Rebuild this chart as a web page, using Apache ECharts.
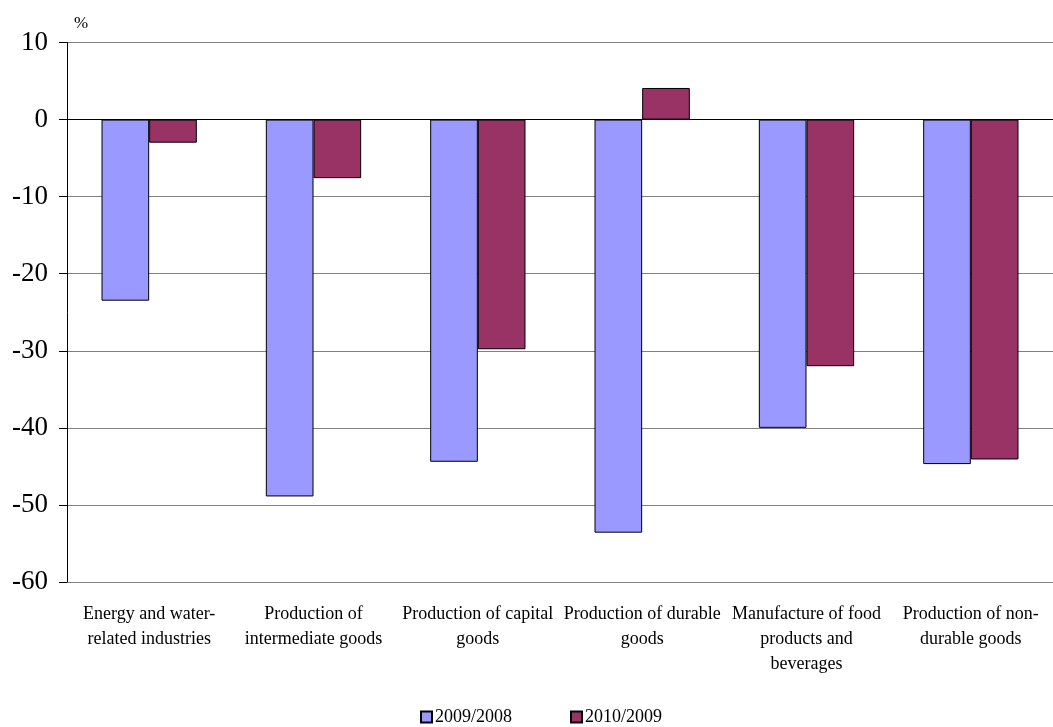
<!DOCTYPE html>
<html>
<head>
<meta charset="utf-8">
<script src="https://cdn.jsdelivr.net/npm/echarts@6/dist/echarts.min.js"></script>
<style>
html,body{margin:0;padding:0;background:#fff;}
#chart{width:1053px;height:727px;}
</style>
</head>
<body>
<div id="chart"></div>
<script>
const categories = [
  "Energy and water-\nrelated industries",
  "Production of\nintermediate goods",
  "Production of capital\ngoods",
  "Production of durable\ngoods",
  "Manufacture of food\nproducts and\nbeverages",
  "Production of non-\ndurable goods"
];
const seriesNames = ["2009/2008", "2010/2009"];
const values2009 = [-23.5, -48.9, -44.4, -53.6, -40.0, -44.7];
const values2010 = [-3.0, -7.6, -29.8, 4.1, -32.0, -44.1];
const yTicks = [-60, -50, -40, -30, -20, -10, 0, 10];

const font = "'Liberation Serif', 'Times New Roman', serif";
const chart = echarts.init(document.getElementById('chart'));
chart.setOption({
  animation: false,
  backgroundColor: '#ffffff',
  title: {
    text: '%',
    left: 69,
    top: 10,
    textStyle: { fontFamily: font, fontSize: 17, fontWeight: 'normal', color: '#000' }
  },
  grid: { left: 67, right: 0, top: 42.5, bottom: 145, containLabel: false },
  legend: {
    data: seriesNames,
    top: 703,
    left: 415,
    itemWidth: 11,
    itemHeight: 11,
    itemGap: 58,
    icon: 'rect',
    textStyle: { fontFamily: font, fontSize: 18, color: '#000', padding: [0, 0, 0, -2] }
  },
  xAxis: {
    type: 'category',
    data: categories,
    position: 'bottom',
    axisLine: { show: false },
    axisTick: { show: false },
    axisLabel: {
      interval: 0,
      fontFamily: font,
      fontSize: 18,
      lineHeight: 25,
      color: '#000',
      margin: 20
    }
  },
  yAxis: {
    type: 'value',
    min: yTicks[0],
    max: yTicks[yTicks.length - 1],
    interval: 10,
    axisLine: { show: true, lineStyle: { color: '#000', width: 1 } },
    axisTick: { show: true, length: 8, lineStyle: { color: '#000' } },
    axisLabel: { fontFamily: font, fontSize: 27, color: '#000', margin: 19 },
    splitLine: { show: true, lineStyle: { color: '#808080', width: 1 } }
  },
  series: [
    {
      name: seriesNames[0],
      type: 'bar',
      data: values2009,
      barGap: '0%',
      barCategoryGap: '42%',
      itemStyle: { color: '#9999FF', borderColor: '#000', borderWidth: 1 },
      markLine: {
        silent: true,
        symbol: 'none',
        label: { show: false },
        lineStyle: { color: '#000', width: 1, type: 'solid' },
        data: [{ yAxis: 0 }]
      }
    },
    {
      name: seriesNames[1],
      type: 'bar',
      data: values2010,
      barGap: '0%',
      barCategoryGap: '42%',
      itemStyle: { color: '#993366', borderColor: '#000', borderWidth: 1 }
    }
  ]
});
</script>
</body>
</html>
